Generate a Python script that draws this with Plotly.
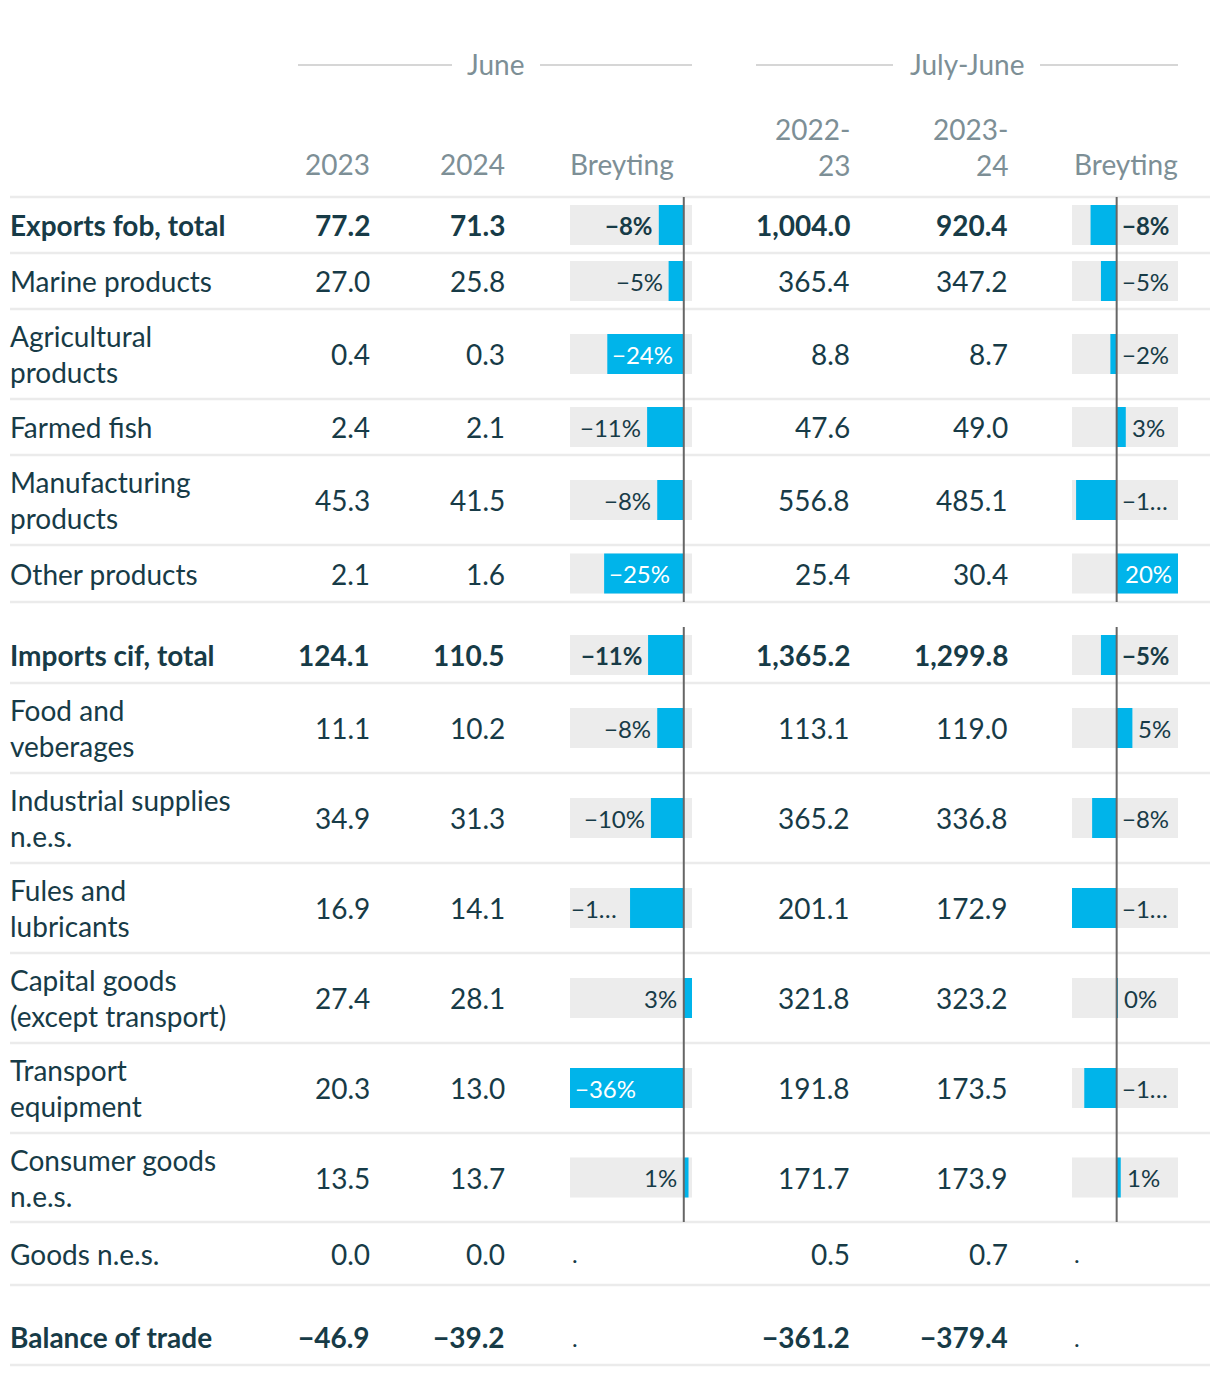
import plotly.graph_objects as go

# ---------------- data ----------------
labels = ["Exports fob, total", "Marine products", "Agricultural<br>products", "Farmed fish",
          "Manufacturing<br>products", "Other products", "Imports cif, total", "Food and<br>veberages",
          "Industrial supplies<br>n.e.s.", "Fules and<br>lubricants", "Capital goods<br>(except transport)",
          "Transport<br>equipment", "Consumer goods<br>n.e.s.", "Goods n.e.s.", "Balance of trade"]
bold_rows = [True, False, False, False, False, False, True, False, False, False, False, False, False, False, True]

june_2023 = [77.2, 27.0, 0.4, 2.4, 45.3, 2.1, 124.1, 11.1, 34.9, 16.9, 27.4, 20.3, 13.5, 0.0, -46.9]
june_2024 = [71.3, 25.8, 0.3, 2.1, 41.5, 1.6, 110.5, 10.2, 31.3, 14.1, 28.1, 13.0, 13.7, 0.0, -39.2]
jj_2022_23 = [1004.0, 365.4, 8.8, 47.6, 556.8, 25.4, 1365.2, 113.1, 365.2, 201.1, 321.8, 191.8, 171.7, 0.5, -361.2]
jj_2023_24 = [920.4, 347.2, 8.7, 49.0, 485.1, 30.4, 1299.8, 119.0, 336.8, 172.9, 323.2, 173.5, 173.9, 0.7, -379.4]

june_change = [-7.9, -4.8, -24.2, -11.6, -8.4, -25.2, -11.3, -8.4, -10.4, -17.0, 2.6, -36.0, 1.5, None, None]
jj_change = [-8.3, -5.0, -2.0, 2.9, -12.9, 19.5, -5.0, 5.0, -7.8, -14.2, 0.4, -10.3, 1.3, None, None]

june_labels = ["−8%", "−5%", "−24%", "−11%", "−8%", "−25%", "−11%", "−8%", "−10%", "−1…", "3%", "−36%", "1%", ".", "."]
jj_labels = ["−8%", "−5%", "−2%", "3%", "−1…", "20%", "−5%", "5%", "−8%", "−1…", "0%", "−1…", "1%", ".", "."]

group_title_1 = "June"
group_title_2 = "July-June"
col_heads = ["2023", "2024", "Breyting", "2022-<br>23", "2023-<br>24", "Breyting"]

# ---------------- style / layout ----------------
W, H = 1220, 1376
FONT = "Lato"
DARK = "#173b47"
GREY_TXT = "#7d8f96"
BAR = "#00b4ea"
CELL_BG = "#ececec"
SEP = "#ebebeb"
ZERO = "#666666"
FS = 28
PS = 24

row_h = [56, 56, 90, 56, 90, 57, 81, 90, 90, 90, 90, 90, 89, 63, 80]
pad_top = [0, 0, 0, 0, 0, 0, 25, 0, 0, 0, 0, 0, 0, 0, 24]
y0 = 197
tops, centers, bottoms = [], [], []
y = y0
for h, p in zip(row_h, pad_top):
    tops.append(y + p)
    centers.append(y + p + (h - p) / 2)
    y += h
    bottoms.append(y)

x_label = 8
x_c1, x_c2 = 372, 507
x_c4, x_c5 = 852, 1010
june_cell = (570, 692)
jj_cell = (1072, 1178)

def fmt(v):
    s = f"{v:,.1f}"
    return s.replace("-", "−")

def b(s, on):
    return f"<b>{s}</b>" if on else s

fig = go.Figure()

jvals = [v for v in june_change if v is not None]
kvals = [v for v in jj_change if v is not None]
bar_rows = [i for i, v in enumerate(june_change) if v is not None]

fig.add_trace(go.Bar(orientation="h", x=[june_change[i] for i in bar_rows],
                     y=[centers[i] for i in bar_rows], width=40,
                     marker=dict(color=BAR, line=dict(width=0)),
                     xaxis="x2", yaxis="y", hoverinfo="skip", showlegend=False))
fig.add_trace(go.Bar(orientation="h", x=[jj_change[i] for i in bar_rows],
                     y=[centers[i] for i in bar_rows], width=40,
                     marker=dict(color=BAR, line=dict(width=0)),
                     xaxis="x3", yaxis="y", hoverinfo="skip", showlegend=False))

shapes = []
ann = []

def A(x, yv, text, anchor, size=FS, color=DARK, xref="x", xshift=0, align="left"):
    ann.append(dict(x=x, y=yv, xref=xref, yref="y", text=text, showarrow=False,
                    xanchor=anchor, yanchor="middle", xshift=xshift, align=align,
                    font=dict(family=FONT, size=size, color=color)))

# group headers
A(495, 64, group_title_1, "center", color=GREY_TXT)
A(967, 64, group_title_2, "center", color=GREY_TXT)
for xa, xb in [(298, 452), (540, 692), (756, 893), (1040, 1178)]:
    shapes.append(dict(type="line", xref="x", yref="y", x0=xa, x1=xb, y0=65, y1=65,
                       line=dict(color="#c9c9c9", width=1.5)))

# column headers
A(x_c1, 164, col_heads[0], "right", color=GREY_TXT)
A(x_c2, 164, col_heads[1], "right", color=GREY_TXT)
A(june_cell[0] - 2, 164, col_heads[2], "left", color=GREY_TXT)
A(x_c4, 147, col_heads[3], "right", color=GREY_TXT, align="right")
A(x_c5, 147, col_heads[4], "right", color=GREY_TXT, align="right")
A(jj_cell[1] + 2, 164, col_heads[5], "right", color=GREY_TXT)

# separators
for yy in [y0] + bottoms:
    shapes.append(dict(type="line", xref="x", yref="y", x0=10, x1=1210, y0=yy, y1=yy,
                       line=dict(color=SEP, width=2.5), layer="below"))

# rows
for i, lab in enumerate(labels):
    bo = bold_rows[i]
    c = centers[i]
    A(x_label, c, b(lab, bo), "left")
    A(x_c1, c, b(fmt(june_2023[i]), bo), "right")
    A(x_c2, c, b(fmt(june_2024[i]), bo), "right")
    A(x_c4, c, b(fmt(jj_2022_23[i]), bo), "right")
    A(x_c5, c, b(fmt(jj_2023_24[i]), bo), "right")

    jv, kv = june_change[i], jj_change[i]
    if jv is None:
        A(june_cell[0], c, june_labels[i], "left", size=PS)
        A(jj_cell[0], c, jj_labels[i], "left", size=PS)
        continue
    for ax in ("x2", "x3"):
        shapes.append(dict(type="rect", xref=f"{ax} domain", yref="y", x0=0, x1=1,
                           y0=c - 20, y1=c + 20, fillcolor=CELL_BG, line=dict(width=0),
                           layer="below"))
        shapes.append(dict(type="line", xref=ax, yref="y", x0=0, x1=0, y0=tops[i], y1=bottoms[i],
                           line=dict(color=ZERO, width=2), layer="above"))
    # June labels
    t = b(june_labels[i], bo)
    if jv < 0 and june_labels[i].endswith("…"):
        A(min(jvals), c, t, "left", size=PS, xref="x2", xshift=-1)
    elif jv < 0 and abs(jv) >= 20:
        A(jv, c, t, "left", size=PS, color="white", xref="x2", xshift=3)
    elif jv < 0:
        A(jv, c, t, "right", size=PS, xref="x2", xshift=-4)
    else:
        A(0, c, t, "right", size=PS, xref="x2", xshift=-5)
    # July-June labels
    t = b(jj_labels[i], bo)
    if kv < 0:
        A(0, c, t, "left", size=PS, xref="x3", xshift=3)
    elif kv >= 15:
        A(kv, c, t, "right", size=PS, color="white", xref="x3", xshift=-4)
    else:
        A(kv, c, t, "left", size=PS, xref="x3", xshift=4)

fig.update_layout(
    width=W, height=H, margin=dict(l=0, r=0, t=0, b=0),
    paper_bgcolor="white", plot_bgcolor="rgba(0,0,0,0)",
    showlegend=False, barmode="overlay",
    xaxis=dict(range=[0, W], domain=[0, 1], visible=False, fixedrange=True),
    yaxis=dict(range=[H, 0], domain=[0, 1], visible=False, fixedrange=True),
    xaxis2=dict(range=[min(jvals), max(jvals)], domain=[june_cell[0] / W, june_cell[1] / W],
                anchor="y", visible=False, fixedrange=True),
    xaxis3=dict(range=[min(kvals), max(kvals)], domain=[jj_cell[0] / W, jj_cell[1] / W],
                anchor="y", visible=False, fixedrange=True),
    shapes=shapes, annotations=ann,
)

fig.write_html("out.html", config={"displayModeBar": False},
               post_script="document.body.style.margin='0';")
